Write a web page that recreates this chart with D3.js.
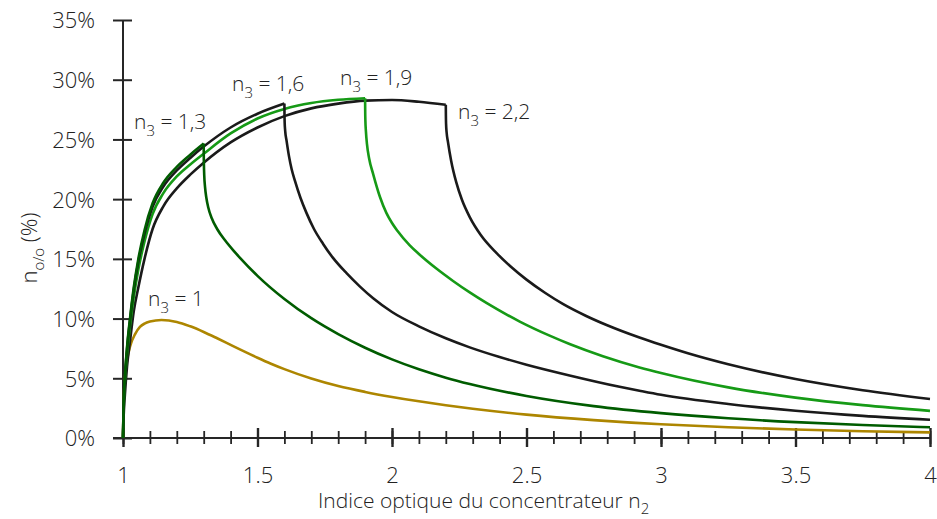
<!DOCTYPE html>
<html><head><meta charset="utf-8">
<script src="https://cdn.jsdelivr.net/npm/d3@7/dist/d3.min.js"></script>
<style>
html,body{margin:0;padding:0;background:#fff;}
svg text{font-family:"Open Sans","Noto Sans",sans-serif;font-weight:300;fill:#222;}
</style></head>
<body><svg id="c" width="937" height="519"></svg>
<script>
// ---- data ----
const xTickLabels = [1, 1.5, 2, 2.5, 3, 3.5, 4];
const yTickLabels = [0, 5, 10, 15, 20, 25, 30, 35];
const n3Labels = ["1", "1,3", "1,6", "1,9", "2,2"];

// n3 = 1 (gold)
const goldN2  = [1, 1.002, 1.007, 1.015, 1.026, 1.045, 1.063, 1.08, 1.1, 1.143, 1.2, 1.25, 1.3, 1.35, 1.4, 1.45, 1.5, 1.55, 1.6, 1.7, 1.8, 1.9, 2.0, 2.1, 2.2, 2.3, 2.5, 2.75, 3.0, 3.25, 3.5, 3.75, 4.0];
const goldPct = [0, 2.6, 5.0, 6.5, 7.65, 8.7, 9.3, 9.58, 9.75, 9.88, 9.72, 9.35, 8.88, 8.35, 7.8, 7.25, 6.72, 6.22, 5.77, 4.98, 4.35, 3.86, 3.44, 3.07, 2.74, 2.45, 1.96, 1.5, 1.15, 0.9, 0.71, 0.57, 0.47];

// rising branch (n2 <= n3), shared n2 grid
const riseN2  = [1, 1.002, 1.007, 1.015, 1.026, 1.04, 1.057, 1.08, 1.11, 1.15, 1.2, 1.25, 1.3, 1.4, 1.5, 1.6, 1.7, 1.8, 1.9, 2.0, 2.1, 2.2];
const rise13  = [0, 2.5, 5.1, 7.6, 10.0, 12.6, 15.0, 17.4, 19.65, 21.37, 22.7, 23.72, 24.65];
const rise16  = [0, 2.4, 5.0, 7.45, 9.85, 12.4, 14.75, 17.1, 19.35, 21.05, 22.4, 23.45, 24.4, 26.0, 27.15, 28.0];
const rise19  = [0, 2.2, 4.7, 7.0, 9.35, 11.8, 14.1, 16.45, 18.75, 20.5, 21.9, 22.9, 23.8, 25.5, 26.75, 27.55, 28.05, 28.32, 28.45];
const rise22  = [0, 1.6, 3.6, 6.0, 8.1, 10.6, 12.6, 15.0, 17.5, 19.4, 20.9, 22.05, 23.05, 24.75, 26.0, 26.95, 27.6, 28.0, 28.25, 28.3, 28.15, 27.9];

// falling branch (n2 >= n3)
const fall13N2  = [1.3, 1.3002, 1.3008, 1.302, 1.305, 1.31, 1.317, 1.33, 1.35, 1.38, 1.41, 1.434, 1.5, 1.6, 1.7, 1.8, 1.9, 2.0, 2.1, 2.2, 2.289, 2.5, 2.75, 3.0, 3.25, 3.5, 3.75, 4.0];
const fall13Pct = [24.65, 23.8, 22.9, 22.0, 21.0, 20.1, 19.3, 18.4, 17.5, 16.53, 15.71, 15.11, 13.58, 11.64, 10.03, 8.70, 7.56, 6.58, 5.75, 5.05, 4.52, 3.52, 2.67, 2.08, 1.65, 1.33, 1.09, 0.90];
const fall16N2  = [1.6, 1.6003, 1.601, 1.603, 1.608, 1.617, 1.627, 1.639, 1.66, 1.682, 1.71, 1.744, 1.78, 1.831, 1.88, 1.93, 2.0, 2.1, 2.2, 2.289, 2.4, 2.5, 2.66, 2.846, 2.92, 3.0, 3.25, 3.5, 3.75, 4.0];
const fall16Pct = [28.0, 27.2, 26.4, 25.7, 24.9, 23.6, 22.5, 21.55, 20.1, 18.85, 17.5, 16.25, 15.1, 13.8, 12.7, 11.7, 10.55, 9.35, 8.35, 7.59, 6.78, 6.14, 5.24, 4.29, 3.96, 3.62, 2.85, 2.28, 1.85, 1.53];
const fall19N2  = [1.9, 1.9003, 1.901, 1.903, 1.907, 1.915, 1.93, 1.955, 1.979, 2.0, 2.02, 2.066, 2.1, 2.165, 2.227, 2.289, 2.351, 2.475, 2.586, 2.66, 2.784, 2.92, 3.0, 3.25, 3.5, 3.75, 4.0];
const fall19Pct = [28.45, 27.5, 26.6, 25.7, 24.6, 23.4, 22.1, 20.2, 18.85, 18.0, 17.35, 16.13, 15.41, 14.19, 13.15, 12.19, 11.31, 9.75, 8.57, 7.87, 6.85, 5.91, 5.44, 4.24, 3.38, 2.75, 2.27];
const fall22N2  = [2.2, 2.2003, 2.201, 2.203, 2.208, 2.22, 2.239, 2.26, 2.289, 2.33, 2.388, 2.44, 2.5, 2.57, 2.635, 2.72, 2.8, 2.92, 3.0, 3.1, 3.25, 3.5, 3.75, 4.0];
const fall22Pct = [27.9, 27.1, 26.3, 25.6, 24.8, 23.2, 21.4, 19.95, 18.5, 17.0, 15.5, 14.38, 13.26, 12.14, 11.23, 10.24, 9.44, 8.41, 7.80, 7.09, 6.17, 4.94, 4.00, 3.27];

const colors = {gold:"#ad8600", dark:"#005c00", green:"#169a16", black:"#1a1a1a"};

// ---- chart ----
const svg = d3.select("#c");
const x = d3.scaleLinear().domain([1, 4]).range([123, 930]);
const y = d3.scaleLinear().domain([0, 35]).range([438, 20]);
const axisColor = "#262626";

// y axis
const yAx = svg.append("g").attr("transform", "translate(123,0)")
  .call(d3.axisLeft(y).tickValues(yTickLabels).tickSize(10).tickPadding(18).tickFormat(d => d + "%"));
yAx.select(".domain").remove();
yAx.selectAll(".tick line").attr("x1", -10).attr("x2", 9).attr("stroke", axisColor).attr("stroke-width", 2);
yAx.selectAll(".tick text").attr("font-size", 22).attr("dy", "0.36em").attr("fill", "#222");
svg.append("line").attr("x1", 123).attr("x2", 123).attr("y1", y(35)).attr("y2", y(0))
  .attr("stroke", axisColor).attr("stroke-width", 2);

// x axis
const minorVals = d3.range(10, 41).map(v => v / 10);
const xMinor = svg.append("g").attr("transform", "translate(0,438)")
  .call(d3.axisBottom(x).tickValues(minorVals).tickSize(6).tickFormat(""));
xMinor.select(".domain").remove();
xMinor.selectAll(".tick line").attr("y1", -7).attr("y2", 6).attr("stroke", axisColor).attr("stroke-width", 1.8);
const xMajor = svg.append("g").attr("transform", "translate(0,438)")
  .call(d3.axisBottom(x).tickValues(xTickLabels).tickSize(9).tickPadding(20).tickFormat(d3.format("")));
xMajor.select(".domain").remove();
xMajor.selectAll(".tick line").attr("y1", -10).attr("y2", 9).attr("stroke", axisColor).attr("stroke-width", 2.4);
xMajor.selectAll(".tick text").attr("font-size", 22).attr("fill", "#222");
svg.append("line").attr("x1", 113).attr("x2", x(4)).attr("y1", 438).attr("y2", 438)
  .attr("stroke", axisColor).attr("stroke-width", 2);

// curves
const line = d3.line().x(d => x(d[0])).y(d => y(d[1])).curve(d3.curveMonotoneX);
const zip = (a, b) => b.map((v, i) => [a[i], v]);
const series = [
  {rise: null, fall: zip(goldN2, goldPct), color: colors.gold},
  {rise: zip(riseN2, rise22), fall: zip(fall22N2, fall22Pct), color: colors.black},
  {rise: zip(riseN2, rise19), fall: zip(fall19N2, fall19Pct), color: colors.green},
  {rise: zip(riseN2, rise16), fall: zip(fall16N2, fall16Pct), color: colors.black},
  {rise: zip(riseN2, rise13), fall: zip(fall13N2, fall13Pct), color: colors.dark}
];
series.forEach(s => {
  [s.rise, s.fall].forEach(seg => {
    if (!seg) return;
    svg.append("path").attr("d", line(seg)).attr("fill", "none")
      .attr("stroke", s.color).attr("stroke-width", 2.6).attr("stroke-linejoin", "round");
  });
});

// curve labels
const labelPos = [[148, 306], [134, 129], [232, 91], [340, 85], [458, 119]];
n3Labels.forEach((lab, i) => {
  const t = svg.append("text").attr("x", labelPos[i][0]).attr("y", labelPos[i][1]).attr("font-size", 21);
  t.append("tspan").text("n");
  t.append("tspan").attr("font-size", 15).attr("dy", 7).text("3");
  t.append("tspan").attr("dy", -7).text(" = " + lab);
});

// axis titles
const xt = svg.append("text").attr("x", 318).attr("y", 508).attr("font-size", 21);
xt.append("tspan").text("Indice optique du concentrateur n");
xt.append("tspan").attr("font-size", 15).attr("dy", 6).text("2");

const yt = svg.append("text").attr("transform", "translate(37,248) rotate(-90)")
  .attr("text-anchor", "middle").attr("font-size", 22);
yt.append("tspan").text("n");
yt.append("tspan").attr("font-size", 15).attr("dy", 7).text("o/o");
yt.append("tspan").attr("dy", -7).text(" (%)");
</script></body></html>
